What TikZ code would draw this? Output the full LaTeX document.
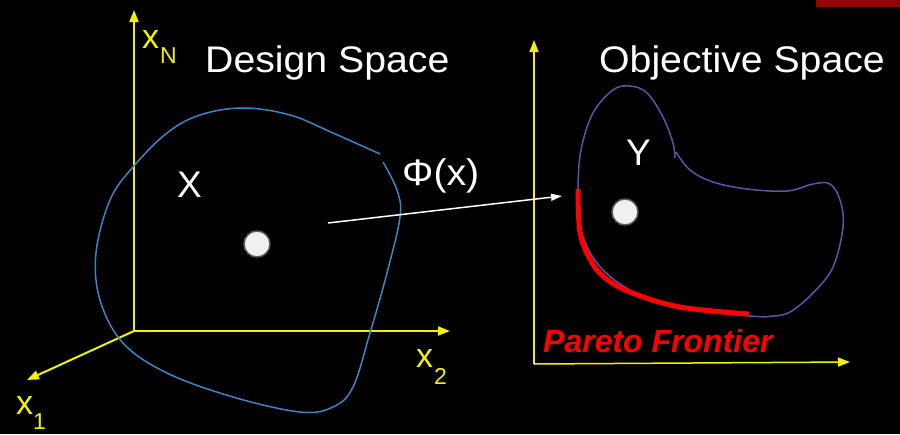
\documentclass[tikz,border=0pt]{standalone}
\usepackage{graphicx}
\usepackage{fontspec}
\setmainfont{Liberation Sans}
\usetikzlibrary{arrows.meta}
\definecolor{axisyellow}{HTML}{F2F200}
\definecolor{setblue}{HTML}{3D85C6}
\definecolor{setpurple}{HTML}{674EA7}
\definecolor{barred}{HTML}{990000}
\newcommand\hstretch[1]{\scalebox{1.06}[1]{#1}}
\tikzset{
  ttl/.style={text=white,inner sep=0pt,font=\fontsize{37}{42}\selectfont},
  axlab/.style={text=axisyellow,inner sep=0pt,anchor=base west,font=\fontsize{34}{38}\selectfont},
  axsub/.style={text=axisyellow,inner sep=0pt,anchor=base west,font=\fontsize{23}{26}\selectfont},
  axisline/.style={draw=axisyellow,line width=2pt,-{Triangle[length=12pt,width=9pt]}},
  axisthin/.style={draw=axisyellow,line width=1.5pt,-{Triangle[length=12pt,width=9pt]}},
  dot/.style={circle,minimum size=26pt,inner sep=0pt,fill=black!6,draw=black!65,line width=1.5pt},
  maparrow/.style={draw=white,line width=1.5pt,-{Triangle[length=11pt,width=7pt]}},
}
\begin{document}
\begin{tikzpicture}[x=1pt,y=-1pt]
\fill[black] (0,0) rectangle (900,434);
\useasboundingbox (0,0) rectangle (900,434);
\fill[barred] (816,0) rectangle (900,7);

% left axes
\coordinate (o1) at (134,331);
\coordinate (xn) at (134,10);
\coordinate (x2) at (450,331);
\coordinate (x1) at (27,380);
\draw[axisline] (o1) -- (xn);
\draw[axisline] (o1) -- (x2);
\draw[axisline] (o1) -- (x1);
\node[axlab] (lxn) at (142,48) {x};
\node[axsub] (lxnsub) at (160,63) {N};
\node[axlab] (lx2) at (416,367) {x};
\node[axsub] (lx2sub) at (434,384) {2};
\node[axlab] (lx1) at (16,414) {x};
\node[axsub] (lx1sub) at (33,429) {1};

% design set
\draw[setblue,line width=1.5pt] plot[smooth,tension=0.6] coordinates {
 (380,154) (333,133) (290,115) (243,108) (200,115) (167,133) (133,167) (110,200)
 (96,253) (100,300) (123,343) (167,373) (233,397) (300,412) (333,407) (353,387)
 (370,333) (387,273) (400,217) (397,190) (383,162)};

\node[ttl,anchor=base west] (ds) at (205,72) {\hstretch{Design Space}};
\node[ttl,anchor=base] (lX) at (189.5,197) {X};
\node[dot] (p1) at (257,244) {};

% right axes
\coordinate (o2) at (534,364);
\coordinate (f2) at (534,40);
\coordinate (f1) at (850,362);
\draw[axisthin] (o2) -- (f2);
\draw[axisthin] (o2) -- (f1);

% objective set
\draw[setpurple,line width=1.5pt] plot[smooth,tension=0.6] coordinates {
 (675,158) (673,143) (663,117) (647,93) (630,86) (613,90) (593,113) (581,150) (578,190)
 (580,227) (597,263) (630,290) (680,308) (750,316) (773,316) (790,312) (813,293)
 (833,267) (843,227) (840,200) (830,184) (813,184) (787,191) (747,189) (713,182)
 (690,170) (676,152)};
\draw[red,line width=5pt] plot[smooth,tension=0.6] coordinates {
 (578,189) (580,232) (590,259) (604,277) (630,292) (680,307) (749,314)};

\node[ttl,anchor=base west] (os) at (599,72) {\hstretch{Objective Space}};
\node[ttl,anchor=base] (lY) at (638.5,165) {Y};
\node[dot] (p2) at (625,212) {};
\node[text=red,inner sep=0pt,anchor=base west,font=\fontsize{32}{36}\selectfont\bfseries\itshape] (pf) at (543,352) {Pareto Frontier};

% mapping
\coordinate (ms) at (328,223);
\coordinate (me) at (562,196);
\draw[maparrow] (ms) -- (me);
\node[ttl,anchor=base west] (phi) at (402,185) {\hstretch{Φ(x)}};
\end{tikzpicture}
\end{document}
